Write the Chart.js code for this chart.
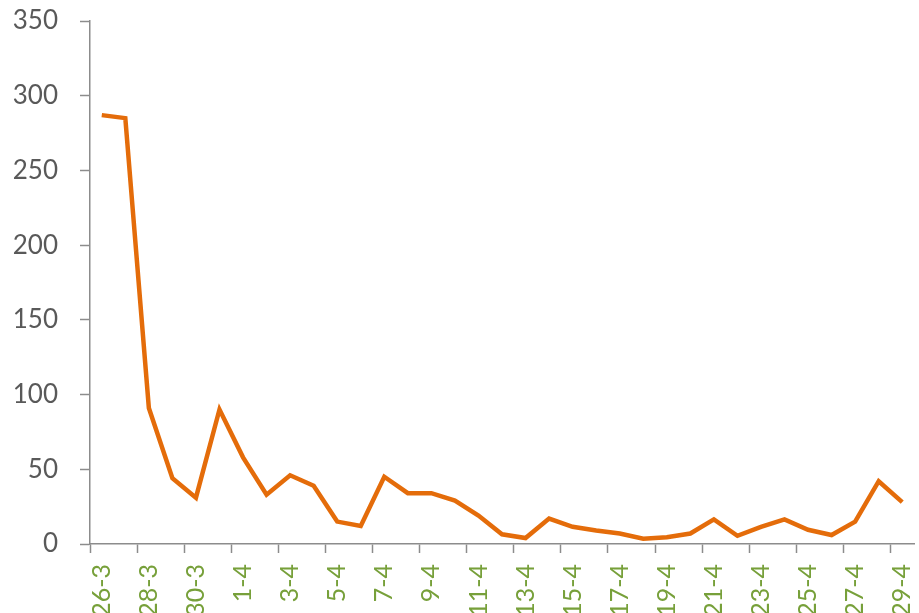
<!DOCTYPE html>
<html>
<head>
<meta charset="utf-8">
<script src="https://cdn.jsdelivr.net/npm/chart.js@4"></script>
<style>
  html, body { margin: 0; padding: 0; background: #fff; }
  #wrap { width: 919px; height: 613px; }
</style>
</head>
<body>
<div id="wrap"><canvas id="chart" width="919" height="613"></canvas></div>
<script>
// dates 26-3 .. 29-4
const dates = [
  '26-3', '27-3', '28-3', '29-3', '30-3', '31-3',
  '1-4', '2-4', '3-4', '4-4', '5-4', '6-4', '7-4', '8-4', '9-4', '10-4',
  '11-4', '12-4', '13-4', '14-4', '15-4', '16-4', '17-4', '18-4', '19-4', '20-4',
  '21-4', '22-4', '23-4', '24-4', '25-4', '26-4', '27-4', '28-4', '29-4'
];
const values = [
  287, 285, 91, 44, 31, 90,
  58, 33, 46, 39, 15, 12, 45, 34, 34, 29,
  19, 6.5, 4, 17, 11.5, 9, 7, 3.5, 4.5, 7,
  16.5, 5.5, 11.5, 16.5, 9.5, 6, 15, 42, 28
];
const yTicks = [0, 50, 100, 150, 200, 250, 300, 350];

const axisGray = '#8c8c8c';

new Chart(document.getElementById('chart'), {
  type: 'line',
  data: {
    labels: dates,
    datasets: [{
      data: values,
      borderColor: '#E46C0A',
      borderWidth: 4.5,
      pointRadius: 0,
      tension: 0,
      fill: false
    }]
  },
  options: {
    responsive: false,
    animation: false,
    layout: { padding: { top: 21, right: 5, bottom: 0, left: 0 } },
    plugins: { legend: { display: false }, tooltip: { enabled: false } },
    scales: {
      x: {
        offset: true,
        afterFit: s => { s.height = 69; s.paddingLeft = 0; s.paddingRight = 0; },
        border: { color: axisGray, width: 1.5 },
        grid: {
          offset: true,
          drawOnChartArea: false,
          tickLength: 9,
          tickWidth: 1.5,
          tickColor: ctx => (ctx.index % 2 === 0 ? axisGray : 'rgba(0,0,0,0)')
        },
        ticks: {
          autoSkip: false,
          minRotation: 90,
          maxRotation: 90,
          padding: 11,
          color: '#77A03A',
          font: { family: 'Lato', size: 25 },
          callback: (v, i) => (i % 2 === 0 ? dates[i] : '')
        }
      },
      y: {
        min: 0,
        max: 350,
        afterFit: s => { s.width = 90; s.paddingTop = 0; s.paddingBottom = 0; },
        afterBuildTicks: s => { s.ticks = yTicks.map(v => ({ value: v })); },
        border: { color: axisGray, width: 1.5 },
        grid: {
          drawOnChartArea: false,
          tickLength: 10,
          tickWidth: 1.5,
          tickColor: axisGray
        },
        ticks: {
          padding: 22,
          color: '#595959',
          font: { family: 'Lato', size: 26 }
        }
      }
    }
  }
});
</script>
</body>
</html>
